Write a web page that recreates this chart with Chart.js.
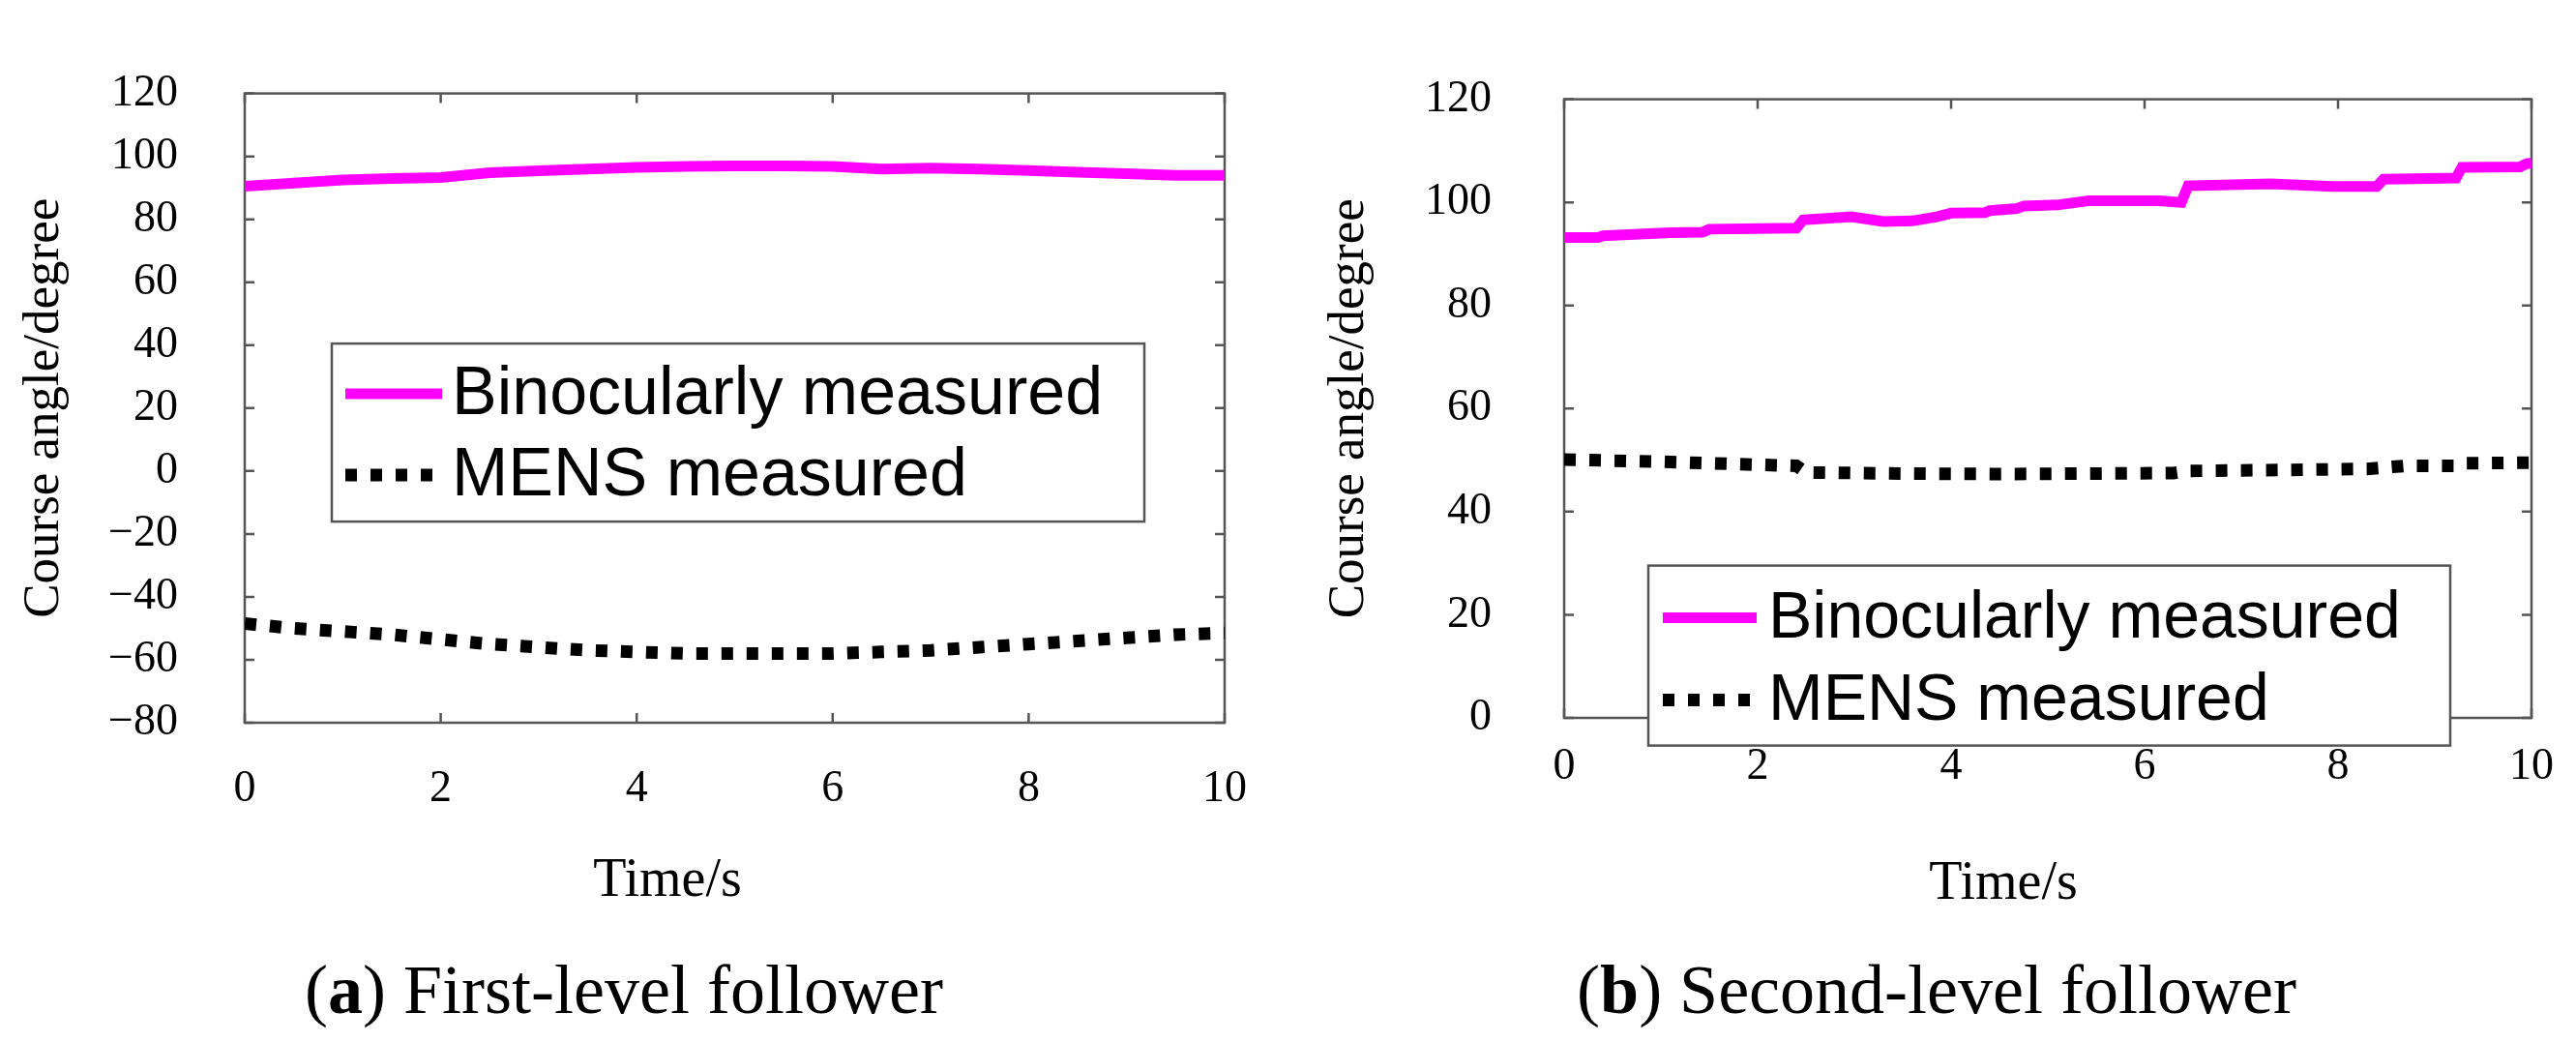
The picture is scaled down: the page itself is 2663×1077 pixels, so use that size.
<!DOCTYPE html>
<html>
<head>
<meta charset="utf-8">
<script src="https://cdn.jsdelivr.net/npm/chart.js@4.4.0/dist/chart.umd.min.js"></script>
<style>
body { margin: 0; background: #fff; width: 2663px; height: 1077px; overflow: hidden; position: relative; font-family: "Liberation Serif", serif; }
.box { position: absolute; top: 0; height: 960px; }
.cap { position: absolute; font-size: 72px; line-height: 1; white-space: nowrap; transform: translateX(-50%); color: #000; }
.xt { position: absolute; font-size: 56px; line-height: 1; white-space: nowrap; transform: translateX(-50%); color: #000; }
</style>
</head>
<body>
<div class="box" style="left:0;width:1330px"><canvas id="chartA"></canvas></div>
<div class="box" style="left:1330px;width:1333px"><canvas id="chartB"></canvas></div>
<div class="xt" style="left:690px;top:879px">Time/s</div>
<div class="xt" style="left:2071px;top:882px">Time/s</div>
<div class="cap" style="left:645px;top:987px">(<b>a</b>) First-level follower</div>
<div class="cap" style="left:2002px;top:987px">(<b>b</b>) Second-level follower</div>
<script>
// series names and axis ticks
var seriesNames = ['Binocularly measured', 'MENS measured'];
var xTicks = [0, 2, 4, 6, 8, 10];
var yTicksA = [-80, -60, -40, -20, 0, 20, 40, 60, 80, 100, 120];
var yTicksB = [0, 20, 40, 60, 80, 100, 120];

// (a) first-level follower
var timeA = [0, 0.5, 1, 1.5, 2, 2.5, 3, 3.5, 4, 4.5, 5, 5.5, 6, 6.5, 7, 7.5, 8, 8.5, 9, 9.5, 10];
var binoA = [90.5, 91.5, 92.5, 93, 93.3, 94.8, 95.4, 96, 96.5, 96.8, 97, 97, 96.8, 96, 96.3, 96, 95.5, 95, 94.5, 94, 94];
var mensA = [-48.5, -50, -51, -52, -53.5, -55, -56, -57, -57.5, -58, -58, -58, -58, -57.5, -57, -56, -55, -54, -53, -52, -51.5];

// (b) second-level follower
var timeBinoB = [0, 0.35, 0.4, 1.1, 1.43, 1.5, 2.4, 2.47, 2.97, 3.3, 3.6, 3.85, 4.0, 4.35, 4.4, 4.68, 4.75, 5.1, 5.42, 6.15, 6.38, 6.45, 7.3, 7.95, 8.4, 8.47, 9.22, 9.28, 9.88, 9.95, 10];
var binoB = [93.2, 93.2, 93.5, 94.1, 94.2, 94.8, 95.0, 96.6, 97.2, 96.3, 96.4, 97.2, 97.9, 98.0, 98.4, 98.8, 99.3, 99.5, 100.3, 100.3, 100.0, 103.2, 103.6, 103.1, 103.1, 104.5, 104.7, 106.8, 106.9, 107.5, 107.6];
var timeMensB = [0, 1, 2, 2.4, 2.5, 3.5, 4.5, 5.5, 6.3, 6.45, 7.5, 8.3, 8.7, 9.2, 9.3, 10];
var mensB = [50.1, 49.7, 49.1, 48.9, 47.6, 47.4, 47.3, 47.4, 47.5, 47.9, 48.1, 48.3, 48.9, 48.9, 49.4, 49.5];

function toPoints(xs, ys) {
    return xs.map(function (x, i) { return { x: x, y: ys[i] }; });
}

function fmt(v) {
    return v < 0 ? '\u2212' + Math.abs(v) : String(v);
}

// box round the plot with inward ticks on all four sides
var framePlugin = {
    id: 'frame',
    beforeDatasetsDraw: function (chart) {
        var a = chart.chartArea, ctx = chart.ctx;
        var xs = chart.scales.x, ys = chart.scales.y;
        var len = 10;
        ctx.save();
        ctx.strokeStyle = '#555';
        ctx.lineWidth = 2.5;
        ctx.strokeRect(a.left, a.top, a.right - a.left, a.bottom - a.top);
        ctx.beginPath();
        xs.ticks.forEach(function (t) {
            var px = xs.getPixelForValue(t.value);
            ctx.moveTo(px, a.bottom); ctx.lineTo(px, a.bottom - len);
            ctx.moveTo(px, a.top); ctx.lineTo(px, a.top + len);
        });
        ys.ticks.forEach(function (t) {
            var py = ys.getPixelForValue(t.value);
            ctx.moveTo(a.left, py); ctx.lineTo(a.left + len, py);
            ctx.moveTo(a.right, py); ctx.lineTo(a.right - len, py);
        });
        ctx.stroke();
        ctx.restore();
    }
};

// legend drawn inside the plot, matlab style
var boxLegendPlugin = {
    id: 'boxLegend',
    afterDatasetsDraw: function (chart, args, o) {
        var a = chart.chartArea, ctx = chart.ctx;
        var x0 = a.left + o.dx, y0 = a.top + o.dy;
        ctx.save();
        ctx.fillStyle = '#fff';
        ctx.fillRect(x0, y0, o.w, o.h);
        ctx.strokeStyle = '#555';
        ctx.lineWidth = 2.5;
        ctx.strokeRect(x0, y0, o.w, o.h);
        ctx.font = o.fontSize + 'px "Liberation Sans", Arial, sans-serif';
        ctx.textBaseline = 'middle';
        ctx.fillStyle = '#000';
        chart.data.datasets.forEach(function (ds, i) {
            var cy = y0 + o.rows[i];
            ctx.beginPath();
            ctx.strokeStyle = ds.borderColor;
            ctx.lineWidth = ds.borderWidth;
            ctx.setLineDash(ds.borderDash || []);
            ctx.moveTo(x0 + o.sampleX, cy);
            ctx.lineTo(x0 + o.sampleX + o.sampleLen, cy);
            ctx.stroke();
            ctx.setLineDash([]);
            ctx.fillText(ds.label, x0 + o.sampleX + o.sampleLen + o.gap, cy + 2);
        });
        ctx.restore();
    }
};

function makeChart(id, s) {
    var serif = '"Liberation Serif", "Times New Roman", serif';
    return new Chart(document.getElementById(id), {
        type: 'line',
        data: {
            datasets: [{
                label: seriesNames[0],
                data: s.bino,
                borderColor: '#ff00ff',
                borderWidth: 11,
                pointRadius: 0,
                tension: 0
            }, {
                label: seriesNames[1],
                data: s.mens,
                borderColor: '#000000',
                borderWidth: 13,
                borderDash: [12, 14],
                borderCapStyle: 'butt',
                pointRadius: 0,
                tension: 0
            }]
        },
        options: {
            responsive: true,
            maintainAspectRatio: false,
            animation: false,
            layout: { padding: s.padding },
            plugins: {
                legend: { display: false },
                tooltip: { enabled: false },
                boxLegend: s.legend
            },
            scales: {
                x: {
                    type: 'linear',
                    min: 0, max: 10,
                    afterBuildTicks: function (sc) { sc.ticks = xTicks.map(function (v) { return { value: v }; }); },
                    afterFit: function (sc) { sc.height = s.xHeight; },
                    grid: { display: false, drawTicks: false },
                    border: { display: false },
                    ticks: { color: '#000', padding: s.xTickPad, maxRotation: 0, font: { family: serif, size: 46 }, callback: fmt },
                    title: { display: false }
                },
                y: {
                    type: 'linear',
                    min: s.yTicks[0], max: s.yTicks[s.yTicks.length - 1],
                    afterBuildTicks: function (sc) { sc.ticks = s.yTicks.map(function (v) { return { value: v }; }); },
                    afterFit: function (sc) { sc.width = s.yWidth; },
                    grid: { display: false, drawTicks: false },
                    border: { display: false },
                    ticks: { color: '#000', padding: s.yTickPad, font: { family: serif, size: 46 }, callback: fmt },
                    title: { display: true, text: 'Course angle/degree', color: '#000', font: { family: serif, size: 53 }, padding: { top: s.yTitlePad, bottom: 0 } }
                }
            }
        },
        plugins: [framePlugin, boxLegendPlugin]
    });
}

makeChart('chartA', {
    bino: toPoints(timeA, binoA),
    mens: toPoints(timeA, mensA),
    yTicks: yTicksA,
    padding: { top: 46.5, right: 52, left: 0, bottom: 0 },
    yWidth: 253, xHeight: 213,
    xTickPad: 41, yTickPad: 69,
    yTitlePad: 14,
    legend: { dx: 90, dy: 258.5, w: 840, h: 184, rows: [52, 136], sampleX: 14, sampleLen: 100, gap: 10, fontSize: 70 }
});

makeChart('chartB', {
    bino: toPoints(timeBinoB, binoB),
    mens: toPoints(timeMensB, mensB),
    yTicks: yTicksB,
    padding: { top: 51, right: 42, left: 0, bottom: 0 },
    yWidth: 287, xHeight: 218,
    xTickPad: 23, yTickPad: 75,
    yTitlePad: 33,
    legend: { dx: 87, dy: 482, w: 829, h: 186, rows: [54, 139], sampleX: 15, sampleLen: 97, gap: 12, fontSize: 68 }
});
</script>
</body>
</html>
